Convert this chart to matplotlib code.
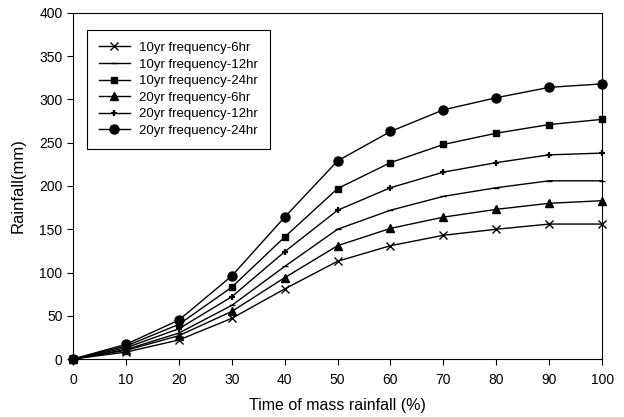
import matplotlib
matplotlib.use("Agg")
import matplotlib.pyplot as plt

plt.rcParams['font.family'] = ['Liberation Sans', 'DejaVu Sans']

time_pct = [0, 10, 20, 30, 40, 50, 60, 70, 80, 90, 100]

# rainfall (mm) for each return period / duration
r10_6 = [0, 8, 22, 47, 81, 113, 131, 143, 150, 156, 156]
r10_12 = [0, 11, 30, 62, 107, 150, 172, 188, 198, 206, 206]
r10_24 = [0, 15, 40, 83, 141, 197, 227, 248, 261, 271, 277]
r20_6 = [0, 10, 27, 55, 94, 131, 151, 164, 173, 180, 183]
r20_12 = [0, 13, 35, 72, 124, 172, 198, 216, 227, 236, 238]
r20_24 = [0, 17, 45, 96, 164, 229, 263, 288, 302, 314, 318]

series = [
    ("10yr frequency-6hr", r10_6, dict(marker='x', markersize=6, mew=1.0)),
    ("10yr frequency-12hr", r10_12, dict(marker='_', markersize=4, mew=1.0)),
    ("10yr frequency-24hr", r10_24, dict(marker='s', markersize=5)),
    ("20yr frequency-6hr", r20_6, dict(marker='^', markersize=6)),
    ("20yr frequency-12hr", r20_12, dict(marker='+', markersize=4.5, mew=1.6)),
    ("20yr frequency-24hr", r20_24, dict(marker='o', markersize=6.5)),
]

fig = plt.figure(figsize=(6.24, 4.17), dpi=100)
ax = fig.add_axes([0.117, 0.139, 0.848, 0.830])

for label, vals, style in series:
    ax.plot(time_pct, vals, color='black', lw=1.0, label=label,
            mfc='black', mec='black', clip_on=False, **style)

ax.set_xlim(0, 100)
ax.set_ylim(0, 400)
ax.set_xticks(range(0, 101, 10))
ax.set_yticks(range(0, 401, 50))
ax.tick_params(direction='out', length=4, labelsize=10, top=False, right=False)
ax.tick_params(axis='x', pad=6)
ax.set_xlabel("Time of mass rainfall (%)", fontsize=11.5, labelpad=8)
ax.set_ylabel("Rainfall(mm)", fontsize=12, labelpad=10)

leg = ax.legend(loc='upper left', bbox_to_anchor=(0.027, 0.951), fontsize=9.5,
                fancybox=False, edgecolor='black', framealpha=1,
                handlelength=2.3, handletextpad=0.7, labelspacing=0.33,
                borderpad=0.9, borderaxespad=0)
leg.get_frame().set_linewidth(0.8)

fig.savefig("out.png", dpi=100)
